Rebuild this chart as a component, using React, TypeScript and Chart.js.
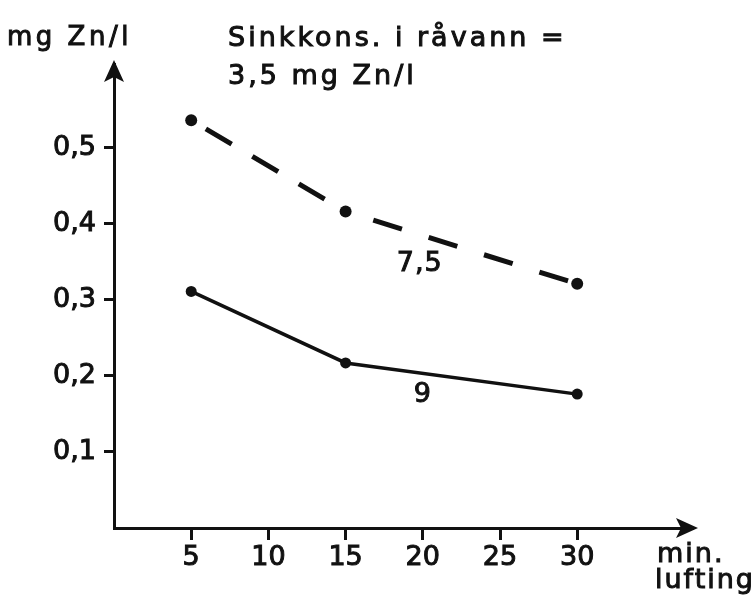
import React, { useEffect, useRef } from "react";
import { Chart, registerables } from "chart.js";

Chart.register(...registerables);

const xValues = [5, 15, 30];
const series75 = [0.536, 0.416, 0.321];
const series9 = [0.311, 0.217, 0.176];
const xTickValues = [5, 10, 15, 20, 25, 30];
const yTickValues = [0.1, 0.2, 0.3, 0.4, 0.5];
const seriesLabels = ["7,5", "9"];
const yAxisTitle = "mg Zn/l";
const noteLines = ["Sinkkons. i råvann =", "3,5 mg Zn/l"];
const xAxisTitle = ["min.", "lufting"];

const FONT = "'DejaVu Sans', sans-serif";
const INK = "#111";

export default function App() {
  const ref = useRef<HTMLCanvasElement | null>(null);

  useEffect(() => {
    const canvas = ref.current;
    if (!canvas) return;

    const annotate = {
      id: "annotate",
      afterDraw(chart: any) {
        const ctx = chart.ctx as CanvasRenderingContext2D;
        const { left, right, top, bottom } = chart.chartArea;
        const xs = chart.scales.x;
        const ys = chart.scales.y;
        ctx.save();
        ctx.fillStyle = INK;
        ctx.strokeStyle = INK;
        // y arrow
        ctx.beginPath();
        ctx.moveTo(left, top - 4);
        ctx.lineTo(left + 10, top + 18);
        ctx.lineTo(left, top + 13);
        ctx.lineTo(left - 10, top + 18);
        ctx.closePath();
        ctx.fill();
        // x arrow
        ctx.beginPath();
        ctx.moveTo(right + 5, bottom);
        ctx.lineTo(right - 17, bottom - 10);
        ctx.lineTo(right - 12, bottom);
        ctx.lineTo(right - 17, bottom + 10);
        ctx.closePath();
        ctx.fill();

        const txt = (s: string, x: number, y: number) => {
          ctx.lineWidth = 1;
          ctx.strokeText(s, x, y);
          ctx.fillText(s, x, y);
        };

        ctx.textBaseline = "alphabetic";
        ctx.textAlign = "left";
        (ctx as any).letterSpacing = "3.5px";
        ctx.font = `26px ${FONT}`;
        txt(yAxisTitle, 7, 45);

        (ctx as any).letterSpacing = "3px";
        ctx.font = `27px ${FONT}`;
        txt(noteLines[0], 228, 46);
        txt(noteLines[1], 228, 84);

        (ctx as any).letterSpacing = "2px";
        txt(xAxisTitle[0], 657, 562);
        txt(xAxisTitle[1], 655, 588);

        (ctx as any).letterSpacing = "1px";
        ctx.textAlign = "center";
        txt(seriesLabels[0], xs.getPixelForValue(19.8), ys.getPixelForValue(0.338));
        txt(seriesLabels[1], xs.getPixelForValue(20.0), ys.getPixelForValue(0.166));
        ctx.restore();
      },
    };

    const tickFont = { family: FONT, size: 27 };

    const chart = new Chart(canvas, {
      type: "line",
      data: {
        datasets: [
          {
            label: seriesLabels[0],
            data: xValues.map((x, i) => ({ x, y: series75[i] })),
            borderColor: INK,
            backgroundColor: INK,
            borderWidth: 5,
            borderDash: [30, 24],
            borderDashOffset: 34,
            borderCapStyle: "butt",
            segment: {
              borderDash: (c: any) => (c.p0DataIndex === 0 ? [30, 24] : [30, 28]),
              borderDashOffset: (c: any) => (c.p0DataIndex === 0 ? 37 : 29),
            },
            pointRadius: 6,
            pointBorderWidth: 0,
            tension: 0,
          },
          {
            label: seriesLabels[1],
            data: xValues.map((x, i) => ({ x, y: series9[i] })),
            borderColor: INK,
            backgroundColor: INK,
            borderWidth: 3.5,
            pointRadius: 5.5,
            pointBorderWidth: 0,
            tension: 0,
          },
        ],
      },
      options: {
        responsive: false,
        animation: false,
        layout: { padding: { left: 0, top: 64, right: 63, bottom: 0 } },
        plugins: {
          legend: { display: false },
          tooltip: { enabled: false },
        },
        scales: {
          x: {
            type: "linear",
            min: 0,
            max: 37.5,
            afterBuildTicks: (s: any) => {
              s.ticks = xTickValues.map((v) => ({ value: v }));
            },
            afterFit: (s: any) => {
              s.height = 72;
            },
            grid: {
              drawOnChartArea: false,
              drawTicks: true,
              tickLength: 12,
              tickColor: INK,
              tickWidth: 3,
            },
            border: { display: true, color: INK, width: 3 },
            ticks: {
              color: INK,
              font: tickFont,
              padding: 2,
              maxRotation: 0,
              autoSkip: false,
              textStrokeColor: INK,
              textStrokeWidth: 1,
              callback: (v: any) => String(v),
            },
          },
          y: {
            type: "linear",
            min: 0,
            max: 0.61,
            afterBuildTicks: (s: any) => {
              s.ticks = yTickValues.map((v) => ({ value: v }));
            },
            afterFit: (s: any) => {
              s.width = 114;
            },
            grid: {
              drawOnChartArea: false,
              drawTicks: true,
              tickLength: 10,
              tickColor: INK,
              tickWidth: 3,
            },
            border: { display: true, color: INK, width: 3 },
            ticks: {
              color: INK,
              font: tickFont,
              padding: 8,
              autoSkip: false,
              textStrokeColor: INK,
              textStrokeWidth: 1,
              callback: (v: any) => Number(v).toFixed(1).replace(".", ","),
            },
          },
        },
      },
      plugins: [annotate],
    });

    return () => chart.destroy();
  }, []);

  return (
    <div style={{ position: "fixed", left: 0, top: 0, width: 756, height: 600, background: "#fff" }}>
      <canvas ref={ref} width={756} height={600} />
    </div>
  );
}
